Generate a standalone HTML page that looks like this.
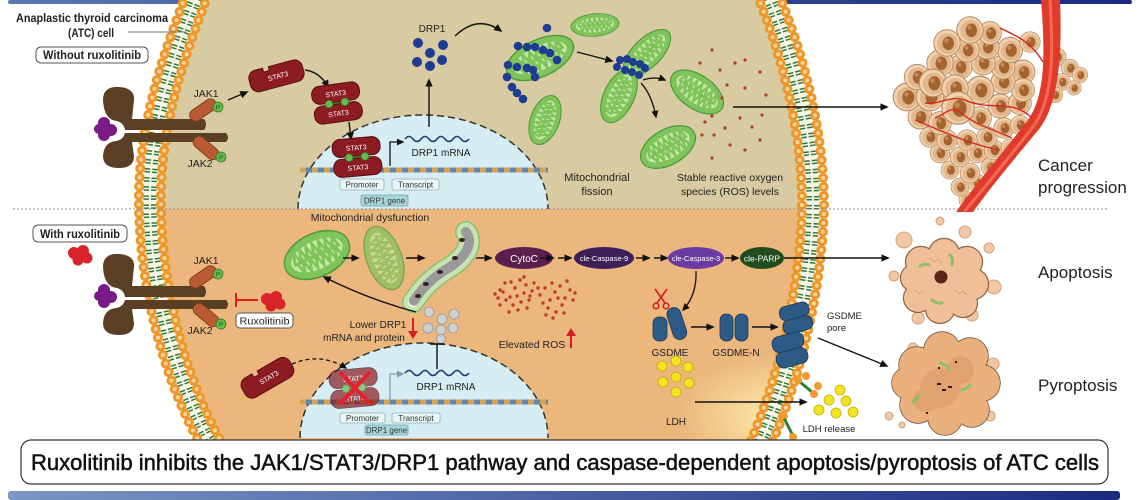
<!DOCTYPE html>
<html><head><meta charset="utf-8"><style>
html,body{margin:0;padding:0;background:#fff;}
svg{display:block;}
text{font-family:"Liberation Sans",sans-serif;fill:#222;}
</style></head><body>
<svg width="1140" height="500" viewBox="0 0 1140 500" xmlns="http://www.w3.org/2000/svg">
<defs>
 <linearGradient id="bar" x1="0" x2="1"><stop offset="0" stop-color="#7a96c4"/><stop offset="1" stop-color="#1b2a80"/></linearGradient>
 <linearGradient id="bar2" x1="0" x2="1"><stop offset="0" stop-color="#5a76ae"/><stop offset="1" stop-color="#1b2a80"/></linearGradient>
 <radialGradient id="glow"><stop offset="0" stop-color="#fbe9a8"/><stop offset="1" stop-color="#fbe9a8" stop-opacity="0"/></radialGradient>
 <clipPath id="cell"><path d="M197,-5 C172,60 148,130 150,210 C152,300 180,390 212,445 L760,445 C780,400 806,320 812,230 C818,150 795,60 768,-5 Z"/></clipPath>
 <marker id="a" viewBox="0 0 10 10" refX="8" refY="5" markerWidth="6" markerHeight="6" orient="auto"><path d="M0,0.5 L10,5 L0,9.5 Z" fill="#111"/></marker>
 <marker id="ag" viewBox="0 0 10 10" refX="8" refY="5" markerWidth="6" markerHeight="6" orient="auto"><path d="M0,0.5 L10,5 L0,9.5 Z" fill="#7f9ea4"/></marker>
 <g id="mito">
  <ellipse rx="30" ry="16" fill="#7ec45a" stroke="#4f9a3c" stroke-width="1.2"/>
  <ellipse rx="24" ry="10.5" fill="#c4e7a6"/>
  <polyline points="-21,0 -18,-8 -15,0 -12,-9 -9,0 -6,-9 -3,0 0,-9 3,0 6,-9 9,0 12,-9 15,0 18,-8 21,0" fill="none" stroke="#7ec45a" stroke-width="2.4"/>
  <polyline points="-19,0 -16,8 -13,0 -10,9 -7,0 -4,9 -1,0 2,9 5,0 8,9 11,0 14,9 17,0 20,7" fill="none" stroke="#7ec45a" stroke-width="2.4"/>
  <line x1="-22" y1="0" x2="22" y2="0" stroke="#7ec45a" stroke-width="2.4"/>
 </g>
 <g id="tc">
  <circle r="12" fill="#f0d2b0" stroke="#b88a60" stroke-width="0.9"/>
  <circle r="9.5" cx="0.6" cy="0.6" fill="#e2b78c"/>
  <ellipse cx="1.2" cy="0.3" rx="5.2" ry="6.2" fill="#a5642f"/>
  <ellipse cx="-0.5" cy="-2.2" rx="1.8" ry="2" fill="#c98a55"/>
 </g>
 <g id="dimer">
  <rect x="-24" y="-19" width="48" height="18" rx="8" fill="#8c1b22" stroke="#5a0d12" stroke-width="1"/>
  <rect x="-24" y="1" width="48" height="18" rx="8" fill="#8c1b22" stroke="#5a0d12" stroke-width="1"/>
  <line x1="-8" y1="0" x2="8" y2="0" stroke="#2f7f2a" stroke-width="1.2"/>
  <circle cx="-8" cy="0" r="3.8" fill="#67b84f" stroke="#2f7f2a" stroke-width="0.8"/>
  <circle cx="8" cy="0" r="3.8" fill="#67b84f" stroke="#2f7f2a" stroke-width="0.8"/>
  <text x="0" y="-7" font-size="7" text-anchor="middle" style="fill:#fff">STAT3</text>
  <text x="0" y="13" font-size="7" text-anchor="middle" style="fill:#fff">STAT3</text>
 </g>
 <g id="mono">
  <path d="M-17,-11 h6 v4 h6 v-4 h25 a8,8 0 0 1 8,8 v6 a8,8 0 0 1 -8,8 h-39 a8,8 0 0 1 -8,-8 v-6 a8,8 0 0 1 8,-8 z" fill="#8c1b22" stroke="#5a0d12" stroke-width="1"/>
  <text x="2" y="3" font-size="7" text-anchor="middle" style="fill:#fff">STAT3</text>
 </g>
 <g id="rec">
  <path d="M103,100 Q103,86 119,87 Q135,88 134,100 L132,119 L204,119 Q208,124.5 204,130 L125,130 Q124,123 117,121 Q104,120 103,100 Z" fill="#5b3f24"/>
  <path d="M125,133 L226,133 Q230,137.5 226,142 L132,142 L134,156 Q134,168 119,168 Q103,168 103,156 Q104,142 116,141 Q123,140 125,133 Z" fill="#5b3f24"/>
  <g fill="#7a1a86"><circle cx="104" cy="123" r="6"/><circle cx="111" cy="130" r="6"/><circle cx="104" cy="135" r="6"/><circle cx="99" cy="129" r="5"/></g>
  <g transform="translate(203,110) rotate(-35)"><rect x="-15" y="-6" width="30" height="12" rx="6" fill="#b95a33" stroke="#7a3518" stroke-width="0.8"/></g>
  <circle cx="218" cy="107" r="5" fill="#67b84f" stroke="#2f7f2a" stroke-width="0.8"/>
  <text x="218" y="109.5" font-size="6.5" text-anchor="middle" style="fill:#1d5a1a">P</text>
  <g transform="translate(206,148) rotate(40)"><rect x="-15" y="-6" width="30" height="12" rx="6" fill="#b95a33" stroke="#7a3518" stroke-width="0.8"/></g>
  <circle cx="221" cy="157" r="5" fill="#67b84f" stroke="#2f7f2a" stroke-width="0.8"/>
  <text x="221" y="159.5" font-size="6.5" text-anchor="middle" style="fill:#1d5a1a">P</text>
  <text x="206" y="97" font-size="10.5" text-anchor="middle">JAK1</text>
  <text x="200" y="167" font-size="10.5" text-anchor="middle">JAK2</text>
 </g>
 <g id="rux" fill="#d8232a"><circle cx="-6" cy="-2" r="6"/><circle cx="3" cy="-4" r="6"/><circle cx="7" cy="3" r="5.5"/><circle cx="-2" cy="5" r="5.5"/></g>
</defs>

<!-- top & bottom bars -->
<rect x="8" y="0" width="1124" height="4" rx="2" fill="url(#bar2)"/>
<rect x="8" y="491" width="1112" height="9" rx="3" fill="url(#bar)"/>

<!-- cell interior -->
<g clip-path="url(#cell)">
 <rect x="0" y="-5" width="1140" height="214" fill="#d8cba1"/>
 <rect x="0" y="209" width="1140" height="240" fill="#ebb77d"/>
 <ellipse cx="770" cy="415" rx="90" ry="60" fill="url(#glow)"/>
</g>

<!-- nuclei -->
<path d="M298,209 A125,94 0 0 1 548,209 Z" fill="#d6edf3"/>
<path d="M298,209 A125,94 0 0 1 548,209" fill="none" stroke="#333" stroke-width="1.5" stroke-dasharray="7 4"/>
<path d="M300,438 A124,95 0 0 1 548,438 Z" fill="#d6edf3"/>
<path d="M300,438 A124,95 0 0 1 548,438" fill="none" stroke="#333" stroke-width="1.5" stroke-dasharray="7 4"/>

<!-- membranes -->
<g fill="none">
 <path d="M197,-5 C172,60 148,130 150,210 C152,300 180,390 212,445" stroke="#f8f6e6" stroke-width="22"/>
 <path d="M197,-5 C172,60 148,130 150,210 C152,300 180,390 212,445" stroke="#2e7a3a" stroke-width="13" stroke-dasharray="1.5 1.5 1.5 4.5"/>
 <path d="M197,-5 C172,60 148,130 150,210 C152,300 180,390 212,445" stroke="#f8f6e6" stroke-width="2"/>
 <path d="M186,-5 C161,60 137,130 139,210 C141,300 169,390 201,445" stroke="#ee962a" stroke-width="10" stroke-dasharray="0 9" stroke-linecap="round"/>
 <path d="M208,-5 C183,60 159,130 161,210 C163,300 191,390 223,445" stroke="#ee962a" stroke-width="10" stroke-dasharray="0 9" stroke-linecap="round"/>
 <path d="M186,-5 C161,60 137,130 139,210 C141,300 169,390 201,445" stroke="#fcd8a0" stroke-width="4" stroke-dasharray="0 9" stroke-linecap="round"/>
 <path d="M208,-5 C183,60 159,130 161,210 C163,300 191,390 223,445" stroke="#fcd8a0" stroke-width="4" stroke-dasharray="0 9" stroke-linecap="round"/>

 <path d="M768,-5 C795,60 818,150 812,230 C806,320 780,400 760,445" stroke="#f8f6e6" stroke-width="22"/>
 <path d="M768,-5 C795,60 818,150 812,230 C806,320 780,400 760,445" stroke="#2e7a3a" stroke-width="13" stroke-dasharray="1.5 1.5 1.5 4.5"/>
 <path d="M768,-5 C795,60 818,150 812,230 C806,320 780,400 760,445" stroke="#f8f6e6" stroke-width="2"/>
 <path d="M757,-5 C784,60 807,150 801,230 C795,320 769,400 749,445" stroke="#ee962a" stroke-width="10" stroke-dasharray="0 9" stroke-linecap="round"/>
 <path d="M779,-5 C806,60 829,150 823,230 C817,320 791,400 771,445" stroke="#ee962a" stroke-width="10" stroke-dasharray="0 9" stroke-linecap="round"/>
 <path d="M757,-5 C784,60 807,150 801,230 C795,320 769,400 749,445" stroke="#fcd8a0" stroke-width="4" stroke-dasharray="0 9" stroke-linecap="round"/>
 <path d="M779,-5 C806,60 829,150 823,230 C817,320 791,400 771,445" stroke="#fcd8a0" stroke-width="4" stroke-dasharray="0 9" stroke-linecap="round"/>
</g>

<!-- divider -->
<line x1="13" y1="209" x2="1108" y2="209" stroke="#8a8a8a" stroke-width="1" stroke-dasharray="2 2"/>

<!-- top-left labels -->
<text x="16" y="22" font-size="12" font-weight="bold" textLength="152" lengthAdjust="spacingAndGlyphs">Anaplastic thyroid carcinoma</text>
<text x="68" y="37" font-size="12" font-weight="bold" textLength="46" lengthAdjust="spacingAndGlyphs">(ATC) cell</text>
<line x1="128" y1="32" x2="186" y2="32" stroke="#777" stroke-width="1"/>
<rect x="36" y="47" width="112" height="16" rx="5" fill="#fff" stroke="#555" stroke-width="1"/>
<text x="43" y="59" font-size="11.5" font-weight="bold" textLength="98" lengthAdjust="spacingAndGlyphs">Without ruxolitinib</text>
<rect x="33" y="225" width="94" height="17" rx="5" fill="#fff" stroke="#555" stroke-width="1"/>
<text x="40" y="238" font-size="11.5" font-weight="bold" textLength="80" lengthAdjust="spacingAndGlyphs">With ruxolitinib</text>

<!-- receptors -->
<use href="#rec"/>
<use href="#rec" transform="translate(0,167)"/>
<use href="#rux" transform="translate(80,255)"/>
<use href="#rux" transform="translate(273,301)"/>
<line x1="258" y1="300" x2="236" y2="300" stroke="#e02020" stroke-width="2"/>
<line x1="236" y1="293" x2="236" y2="307" stroke="#e02020" stroke-width="2"/>
<rect x="236" y="313" width="57" height="15" rx="4" fill="#fff" stroke="#555" stroke-width="1"/>
<text x="264.5" y="324.5" font-size="10" text-anchor="middle" textLength="50" lengthAdjust="spacingAndGlyphs">Ruxolitinib</text>

<!-- top STAT3 pathway -->
<path d="M228,100 L247,92" stroke="#111" stroke-width="1.4" marker-end="url(#a)"/>
<use href="#mono" transform="translate(276,76) rotate(-15)"/>
<path d="M305,70 Q320,72 328,87" fill="none" stroke="#111" stroke-width="1.4" marker-end="url(#a)"/>
<use href="#dimer" transform="translate(337,103) rotate(-8)"/>
<path d="M349,122 L351,139" stroke="#111" stroke-width="1.4" marker-end="url(#a)"/>

<!-- top DNA -->
<line x1="300" y1="170" x2="548" y2="170" stroke="#d9a050" stroke-width="5" stroke-dasharray="6 6"/>
<line x1="300" y1="170" x2="548" y2="170" stroke="#5f86ad" stroke-width="5" stroke-dasharray="6 6" stroke-dashoffset="6"/>
<use href="#dimer" transform="translate(357,157) rotate(-5)"/>
<rect x="340" y="179" width="44" height="11" rx="2" fill="#eaf5f8" stroke="#8fb0b8" stroke-width="0.8"/>
<text x="362" y="187.5" font-size="8" text-anchor="middle" style="fill:#333">Promoter</text>
<rect x="392" y="179" width="47" height="11" rx="2" fill="#eaf5f8" stroke="#8fb0b8" stroke-width="0.8"/>
<text x="415.5" y="187.5" font-size="8" text-anchor="middle" style="fill:#333">Transcript</text>
<rect x="361" y="195" width="47" height="11" rx="2" fill="#a8d5d8" stroke="#6aa5aa" stroke-width="0.8"/>
<text x="384.5" y="203.5" font-size="8" text-anchor="middle" style="fill:#333">DRP1 gene</text>
<path d="M390,166 L390,142 L403,142" fill="none" stroke="#111" stroke-width="1.3" marker-end="url(#a)"/>
<path d="M405,139 q4,-5 8,0 t8,0 t8,0 t8,0 t8,0 t8,0 t8,0 t8,0" fill="none" stroke="#1a3a6e" stroke-width="1.6"/>
<text x="441" y="156" font-size="10" text-anchor="middle">DRP1 mRNA</text>
<path d="M429,127 L429,80" stroke="#111" stroke-width="1.4" marker-end="url(#a)"/>

<!-- DRP1 dots -->
<g fill="#1f3c93">
 <circle cx="418" cy="43" r="5"/><circle cx="443" cy="45" r="5"/><circle cx="430" cy="53" r="5"/>
 <circle cx="417" cy="62" r="5"/><circle cx="442" cy="60" r="5"/><circle cx="430" cy="66" r="5"/>
</g>
<text x="432" y="32" font-size="10" text-anchor="middle">DRP1</text>
<path d="M455,36 Q478,14 501,31" fill="none" stroke="#111" stroke-width="1.4" marker-end="url(#a)"/>

<!-- top mitochondria -->
<use href="#mito" transform="translate(595,25) rotate(-5) scale(0.8,0.7)"/>
<use href="#mito" transform="translate(545,120) rotate(-70) scale(0.85,0.9)"/>
<use href="#mito" transform="translate(540,58) rotate(-25) scale(1.2,1.15)"/>
<g fill="#1f3c93">
 <circle cx="547" cy="28" r="4.3"/><circle cx="518" cy="46" r="4.3"/><circle cx="527" cy="47" r="4.3"/><circle cx="535" cy="47" r="4.3"/>
 <circle cx="543" cy="50" r="4.3"/><circle cx="550" cy="53" r="4.3"/><circle cx="557" cy="60" r="4.3"/><circle cx="508" cy="65" r="4.3"/>
 <circle cx="517" cy="67" r="4.3"/><circle cx="527" cy="68" r="4.3"/><circle cx="535" cy="77" r="4.3"/><circle cx="507" cy="77" r="4.3"/>
 <circle cx="512" cy="87" r="4.3"/><circle cx="517" cy="93" r="4.3"/><circle cx="523" cy="99" r="4.3"/><circle cx="533" cy="70" r="4.3"/>
</g>
<path d="M577,52 L612,61" stroke="#111" stroke-width="1.4" marker-end="url(#a)"/>
<use href="#mito" transform="translate(647,53) rotate(-45) scale(1.0,0.9)"/>
<use href="#mito" transform="translate(619,96) rotate(-65) scale(0.95,0.95)"/>
<g fill="#1f3c93">
 <circle cx="620" cy="60" r="4"/><circle cx="627" cy="59" r="4"/><circle cx="633" cy="62" r="4"/><circle cx="640" cy="64" r="4"/>
 <circle cx="645" cy="68" r="4"/><circle cx="639" cy="75" r="4"/><circle cx="632" cy="72" r="4"/><circle cx="625" cy="70" r="4"/><circle cx="617" cy="67" r="4"/>
</g>
<path d="M643,80 Q655,76 665,80" fill="none" stroke="#111" stroke-width="1.3" marker-end="url(#a)"/>
<path d="M641,83 Q652,95 656,117" fill="none" stroke="#111" stroke-width="1.3" marker-end="url(#a)"/>
<use href="#mito" transform="translate(697,92) rotate(35) scale(1.0,1.05)"/>
<use href="#mito" transform="translate(668,147) rotate(-30) scale(1.0,1.1)"/>

<!-- top ROS -->
<g fill="#b23a2a">
 <circle cx="712" cy="50" r="1.6"/><circle cx="700" cy="63" r="1.6"/><circle cx="720" cy="70" r="1.6"/><circle cx="735" cy="63" r="1.6"/>
 <circle cx="727" cy="85" r="1.6"/><circle cx="745" cy="60" r="1.6"/><circle cx="760" cy="72" r="1.6"/><circle cx="705" cy="122" r="1.6"/>
 <circle cx="712" cy="116" r="1.6"/><circle cx="725" cy="128" r="1.6"/><circle cx="714" cy="135" r="1.6"/><circle cx="702" cy="135" r="1.6"/>
 <circle cx="740" cy="118" r="1.6"/><circle cx="752" cy="127" r="1.6"/><circle cx="760" cy="140" r="1.6"/><circle cx="730" cy="145" r="1.6"/>
 <circle cx="745" cy="150" r="1.6"/><circle cx="712" cy="158" r="1.6"/><circle cx="762" cy="115" r="1.6"/><circle cx="766" cy="95" r="1.6"/>
 <circle cx="722" cy="98" r="1.6"/><circle cx="745" cy="88" r="1.6"/>
</g>
<path d="M733,107 L887,107" stroke="#111" stroke-width="1.4" marker-end="url(#a)"/>
<text x="597" y="181" font-size="11" text-anchor="middle">Mitochondrial</text>
<text x="597" y="195" font-size="11" text-anchor="middle">fission</text>
<text x="730" y="181" font-size="10.5" text-anchor="middle">Stable reactive oxygen</text>
<text x="730" y="195" font-size="10.5" text-anchor="middle">species (ROS) levels</text>

<!-- tumor -->
<g>
 <use href="#tc" transform="translate(967,200) scale(0.68)"/>
 <use href="#tc" transform="translate(960,187) scale(0.75)"/><use href="#tc" transform="translate(977,183) scale(0.75)"/>
 <use href="#tc" transform="translate(950,170) scale(0.75)"/><use href="#tc" transform="translate(970,173) scale(0.82)"/><use href="#tc" transform="translate(990,167) scale(0.75)"/>
 <use href="#tc" transform="translate(940,153) scale(0.82)"/><use href="#tc" transform="translate(960,157) scale(0.82)"/><use href="#tc" transform="translate(977,153) scale(0.82)"/><use href="#tc" transform="translate(994,150) scale(0.82)"/>
 <use href="#tc" transform="translate(1010,148) scale(0.75)"/>
 <use href="#tc" transform="translate(930,137) scale(0.85)"/><use href="#tc" transform="translate(947,140) scale(0.85)"/><use href="#tc" transform="translate(967,140) scale(0.85)"/><use href="#tc" transform="translate(987,137) scale(0.85)"/>
 <use href="#tc" transform="translate(1004,128) scale(0.85)"/><use href="#tc" transform="translate(1020,125) scale(0.8)"/>
 <use href="#tc" transform="translate(920,117) scale(1.0)"/><use href="#tc" transform="translate(940,123) scale(0.95)"/><use href="#tc" transform="translate(980,118) scale(0.95)"/>
 <use href="#tc" transform="translate(1000,106) scale(1.0)"/><use href="#tc" transform="translate(1020,103) scale(0.95)"/>
 <use href="#tc" transform="translate(1057,57) scale(0.75)"/><use href="#tc" transform="translate(1070,68) scale(0.72)"/><use href="#tc" transform="translate(1080,75) scale(0.65)"/>
 <use href="#tc" transform="translate(1062,82) scale(0.7)"/><use href="#tc" transform="translate(1074,88) scale(0.6)"/><use href="#tc" transform="translate(1055,95) scale(0.65)"/>
 <use href="#tc" transform="translate(1023,72) scale(1.0)"/><use href="#tc" transform="translate(1023,90) scale(0.95)"/>
 <use href="#tc" transform="translate(1003,82) scale(1.0)"/><use href="#tc" transform="translate(980,90) scale(1.15)"/>
 <use href="#tc" transform="translate(907,97) scale(1.15)"/><use href="#tc" transform="translate(930,97) scale(1.15)"/>
 <use href="#tc" transform="translate(917,77) scale(1.05)"/>
 <use href="#tc" transform="translate(1003,67) scale(1.0)"/><use href="#tc" transform="translate(983,63) scale(1.0)"/>
 <use href="#tc" transform="translate(1010,50) scale(1.05)"/><use href="#tc" transform="translate(987,47) scale(1.0)"/>
 <use href="#tc" transform="translate(990,33) scale(0.95)"/><use href="#tc" transform="translate(1030,42) scale(0.85)"/>
 <use href="#tc" transform="translate(960,67) scale(1.0)"/><use href="#tc" transform="translate(940,63) scale(1.1)"/>
 <use href="#tc" transform="translate(967,50) scale(1.0)"/><use href="#tc" transform="translate(947,43) scale(1.1)"/>
 <use href="#tc" transform="translate(970,30) scale(1.1)"/>
 <use href="#tc" transform="translate(933,83) scale(1.15)"/><use href="#tc" transform="translate(955,88) scale(1.1)"/>
 <use href="#tc" transform="translate(958,108) scale(1.35)"/>
</g>
<path d="M1041,0 C1045,50 1046,95 1028,120 C1005,150 975,185 956,212 L973,212 C990,188 1015,158 1040,128 C1060,100 1062,50 1060,0 Z" fill="#e23a2a"/>
<path d="M1050,0 C1053,50 1054,95 1035,124 C1012,154 984,188 964,212" fill="none" stroke="#f26a55" stroke-width="3"/>
<g fill="none" stroke="#d9281e" stroke-width="1.4">
 <path d="M1032,118 C1012,98 990,112 965,100 C950,95 940,105 925,103"/>
 <path d="M1043,62 C1030,40 1012,34 1000,28"/>
 <path d="M1012,138 C990,128 975,125 960,112 C950,105 945,115 935,118"/>
 <path d="M1000,150 C970,145 940,130 915,120"/>
</g>
<text x="1038" y="171" font-size="17">Cancer</text>
<text x="1038" y="193" font-size="17">progression</text>

<!-- bottom half -->
<text x="370" y="221" font-size="10.5" text-anchor="middle">Mitochondrial dysfunction</text>
<use href="#mito" transform="translate(317,255) rotate(-25) scale(1.15,1.35)"/>
<path d="M343,258 L358,258" stroke="#111" stroke-width="1.4" marker-end="url(#a)"/>
<g opacity="0.7"><use href="#mito" transform="translate(384,258) rotate(70) scale(1.1,1.1)"/></g>
<path d="M406,258 L424,258" stroke="#111" stroke-width="1.4" marker-end="url(#a)"/>
<g fill="none" stroke-linecap="round">
 <path d="M466,232 C476,246 460,262 445,270 C427,282 420,292 413,302" stroke="#8cbf73" stroke-width="22"/>
 <path d="M466,232 C476,246 460,262 445,270 C427,282 420,292 413,302" stroke="#c6e4b0" stroke-width="19"/>
 <path d="M466,232 C476,246 460,262 445,270 C427,282 420,292 413,302" stroke="#f3f5ef" stroke-width="10"/>
 <path d="M466,232 C476,246 460,262 445,270 C427,282 420,292 413,302" stroke="#9a9a9a" stroke-width="10" stroke-dasharray="1 3"/>
</g>
<g fill="#3a1f1f"><ellipse cx="462" cy="240" rx="3" ry="2"/><ellipse cx="455" cy="258" rx="3" ry="2"/><ellipse cx="440" cy="272" rx="3" ry="2"/><ellipse cx="426" cy="284" rx="3" ry="2"/><ellipse cx="418" cy="296" rx="3" ry="2"/></g>
<path d="M476,258 L491,258" stroke="#111" stroke-width="1.4" marker-end="url(#a)"/>
<ellipse cx="524" cy="258" rx="29" ry="11" fill="#5a1f4f"/>
<text x="524" y="262" font-size="10" text-anchor="middle" style="fill:#fff">CytoC</text>
<path d="M540,258 L553,258" stroke="#111" stroke-width="1.4" marker-end="url(#a)"/>
<path d="M558,258 L571,258" stroke="#111" stroke-width="1.4" marker-end="url(#a)"/>
<ellipse cx="604" cy="258" rx="30" ry="11" fill="#3d1f5a"/>
<text x="604" y="261" font-size="7.5" text-anchor="middle" style="fill:#fff">cle-Caspase-9</text>
<path d="M636,258 L649,258" stroke="#111" stroke-width="1.4" marker-end="url(#a)"/>
<path d="M654,258 L667,258" stroke="#111" stroke-width="1.4" marker-end="url(#a)"/>
<ellipse cx="696" cy="258" rx="28" ry="11" fill="#6b3aa3"/>
<text x="696" y="261" font-size="7.5" text-anchor="middle" style="fill:#fff">cle-Caspase-3</text>
<path d="M725,258 L738,258" stroke="#111" stroke-width="1.4" marker-end="url(#a)"/>
<ellipse cx="762" cy="258" rx="22" ry="11" fill="#1f4d1f"/>
<text x="762" y="261.5" font-size="8.5" text-anchor="middle" style="fill:#fff">cle-PARP</text>
<path d="M784,258 L888,258" stroke="#111" stroke-width="1.4" marker-end="url(#a)"/>

<path d="M416,312 Q370,300 324,277" fill="none" stroke="#111" stroke-width="1.4" marker-end="url(#a)"/>
<text x="378" y="328" font-size="10" text-anchor="middle">Lower DRP1</text>
<text x="364" y="341" font-size="10" text-anchor="middle">mRNA and protein</text>
<line x1="413" y1="318" x2="413" y2="332" stroke="#d42020" stroke-width="2"/>
<path d="M408,331 L418,331 L413,339 Z" fill="#d42020"/>
<g fill="#d0d0d0" stroke="#9a9a9a" stroke-width="0.8">
 <circle cx="429" cy="312" r="5"/><circle cx="442" cy="319" r="5"/><circle cx="454" cy="314" r="5"/>
 <circle cx="428" cy="328" r="5"/><circle cx="441" cy="330" r="5"/><circle cx="453" cy="328" r="5"/><circle cx="441" cy="339" r="4.5"/>
</g>

<!-- elevated ROS -->
<g fill="#c0392b">
 <circle cx="500" cy="290" r="1.7"/><circle cx="505" cy="283" r="1.7"/><circle cx="510" cy="297" r="1.7"/><circle cx="515" cy="288" r="1.7"/>
 <circle cx="520" cy="280" r="1.7"/><circle cx="524" cy="293" r="1.7"/><circle cx="529" cy="300" r="1.7"/><circle cx="513" cy="305" r="1.7"/>
 <circle cx="506" cy="300" r="1.7"/><circle cx="498" cy="298" r="1.7"/><circle cx="518" cy="310" r="1.7"/><circle cx="526" cy="285" r="1.7"/>
 <circle cx="532" cy="291" r="1.7"/><circle cx="503" cy="292" r="1.7"/><circle cx="511" cy="282" r="1.7"/><circle cx="521" cy="302" r="1.7"/>
 <circle cx="527" cy="308" r="1.7"/><circle cx="534" cy="283" r="1.7"/><circle cx="495" cy="294" r="1.7"/><circle cx="509" cy="312" r="1.7"/>
 <circle cx="517" cy="296" r="1.7"/><circle cx="524" cy="277" r="1.7"/><circle cx="530" cy="296" r="1.7"/><circle cx="500" cy="305" r="1.7"/>
 <circle cx="540" cy="295" r="1.7"/><circle cx="545" cy="288" r="1.7"/><circle cx="550" cy="300" r="1.7"/><circle cx="555" cy="292" r="1.7"/>
 <circle cx="560" cy="286" r="1.7"/><circle cx="565" cy="298" r="1.7"/><circle cx="570" cy="290" r="1.7"/><circle cx="548" cy="308" r="1.7"/>
 <circle cx="556" cy="312" r="1.7"/><circle cx="562" cy="305" r="1.7"/><circle cx="543" cy="303" r="1.7"/><circle cx="552" cy="283" r="1.7"/>
 <circle cx="567" cy="281" r="1.7"/><circle cx="573" cy="300" r="1.7"/><circle cx="546" cy="315" r="1.7"/><circle cx="558" cy="298" r="1.7"/>
 <circle cx="564" cy="313" r="1.7"/><circle cx="538" cy="288" r="1.7"/><circle cx="553" cy="318" r="1.7"/><circle cx="575" cy="293" r="1.7"/>
</g>
<text x="532" y="348" font-size="10.5" text-anchor="middle">Elevated ROS</text>
<line x1="571" y1="348" x2="571" y2="335" stroke="#d42020" stroke-width="2"/>
<path d="M566,336 L576,336 L571,328 Z" fill="#d42020"/>

<!-- GSDME -->
<path d="M696,271 Q697,295 683,310" fill="none" stroke="#111" stroke-width="1.3" marker-end="url(#a)"/>
<g stroke="#d62020" stroke-width="1.6" fill="none">
 <line x1="657" y1="303" x2="667" y2="289"/><line x1="665" y1="303" x2="655" y2="289"/>
 <circle cx="656" cy="306" r="2.8"/><circle cx="666" cy="306" r="2.8"/>
</g>
<rect x="653" y="317" width="14" height="24" rx="6" fill="#2d5b86" stroke="#1a3a5c" stroke-width="0.8"/>
<g transform="translate(677,324) rotate(-18)"><rect x="-7" y="-17" width="14" height="33" rx="7" fill="#2d5b86" stroke="#1a3a5c" stroke-width="0.8"/></g>
<text x="670" y="356" font-size="10" text-anchor="middle">GSDME</text>
<path d="M691,327 L713,327" stroke="#111" stroke-width="1.4" marker-end="url(#a)"/>
<rect x="720" y="314" width="13" height="27" rx="6" fill="#2d5b86" stroke="#1a3a5c" stroke-width="0.8"/>
<rect x="735" y="314" width="13" height="27" rx="6" fill="#2d5b86" stroke="#1a3a5c" stroke-width="0.8"/>
<text x="736" y="356" font-size="10" text-anchor="middle">GSDME-N</text>
<path d="M752,327 L777,327" stroke="#111" stroke-width="1.4" marker-end="url(#a)"/>
<g transform="translate(796,318) rotate(-15)" fill="#2d5b86" stroke="#1a3a5c" stroke-width="0.8">
 <rect x="-15" y="-14" width="30" height="14" rx="6"/><rect x="-15" y="0" width="30" height="14" rx="6"/>
</g>
<g transform="translate(790,350) rotate(-15)" fill="#2d5b86" stroke="#1a3a5c" stroke-width="0.8">
 <rect x="-16" y="-16" width="32" height="16" rx="7"/><rect x="-16" y="0" width="32" height="16" rx="7"/>
</g>
<text x="827" y="319" font-size="9.5">GSDME</text>
<text x="827" y="331" font-size="9.5">pore</text>
<path d="M818,338 L887,366" stroke="#111" stroke-width="1.4" marker-end="url(#a)"/>

<!-- lipid fragments -->
<g>
 <line x1="800" y1="382" x2="812" y2="392" stroke="#2f7f3a" stroke-width="3"/>
 <circle cx="798" cy="380" r="4" fill="#f29a2e"/><circle cx="814" cy="394" r="4" fill="#f29a2e"/>
 <circle cx="806" cy="376" r="4" fill="#f29a2e"/><circle cx="818" cy="386" r="4" fill="#f29a2e"/>
 <line x1="784" y1="418" x2="792" y2="434" stroke="#2f7f3a" stroke-width="3"/>
 <circle cx="783" cy="415" r="4" fill="#f29a2e"/><circle cx="793" cy="437" r="4" fill="#f29a2e"/>
</g>

<!-- LDH -->
<g fill="#f3e323" stroke="#c2b000" stroke-width="0.8">
 <circle cx="662" cy="366" r="5"/><circle cx="676" cy="361" r="5"/><circle cx="688" cy="367" r="5"/>
 <circle cx="663" cy="382" r="5"/><circle cx="676" cy="377" r="5"/><circle cx="689" cy="383" r="5"/><circle cx="676" cy="392" r="5"/>
</g>
<text x="676" y="425" font-size="10" text-anchor="middle">LDH</text>
<path d="M695,402 L806,402" stroke="#111" stroke-width="1.4" marker-end="url(#a)"/>
<g fill="#f3e323" stroke="#c2b000" stroke-width="0.8">
 <circle cx="840" cy="390" r="5"/><circle cx="829" cy="400" r="5"/><circle cx="846" cy="401" r="5"/>
 <circle cx="819" cy="410" r="5"/><circle cx="836" cy="413" r="5"/><circle cx="853" cy="412" r="5"/>
</g>
<text x="829" y="432" font-size="9.5" text-anchor="middle">LDH release</text>

<!-- bottom nucleus content -->
<use href="#mono" transform="translate(267,378) rotate(-30)"/>
<path d="M292,364 Q320,352 346,368" fill="none" stroke="#111" stroke-width="1.3" stroke-dasharray="4 3" marker-end="url(#a)"/>
<line x1="300" y1="402" x2="548" y2="402" stroke="#d9a050" stroke-width="5" stroke-dasharray="6 6"/>
<line x1="300" y1="402" x2="548" y2="402" stroke="#5f86ad" stroke-width="5" stroke-dasharray="6 6" stroke-dashoffset="6"/>
<g opacity="0.7"><use href="#dimer" transform="translate(354,388) rotate(-5)"/></g>
<line x1="340" y1="372" x2="370" y2="404" stroke="#e8202a" stroke-width="4"/>
<line x1="370" y1="372" x2="340" y2="404" stroke="#e8202a" stroke-width="4"/>
<rect x="340" y="413" width="45" height="10" rx="2" fill="#eaf5f8" stroke="#8fb0b8" stroke-width="0.8"/>
<text x="362.5" y="421" font-size="8" text-anchor="middle" style="fill:#333">Promoter</text>
<rect x="392" y="413" width="48" height="10" rx="2" fill="#eaf5f8" stroke="#8fb0b8" stroke-width="0.8"/>
<text x="416" y="421" font-size="8" text-anchor="middle" style="fill:#333">Transcript</text>
<rect x="365" y="425" width="43" height="10" rx="2" fill="#a8d5d8" stroke="#6aa5aa" stroke-width="0.8"/>
<text x="386.5" y="433" font-size="8" text-anchor="middle" style="fill:#333">DRP1 gene</text>
<path d="M390,400 L390,374 L403,374" fill="none" stroke="#7f9ea4" stroke-width="1.3" marker-end="url(#ag)"/>
<path d="M405,373 q4,-5 8,0 t8,0 t8,0 t8,0 t8,0 t8,0 t8,0 t8,0" fill="none" stroke="#1a3a6e" stroke-width="1.6"/>
<text x="446" y="390" font-size="10" text-anchor="middle">DRP1 mRNA</text>
<line x1="437" y1="369" x2="437" y2="344" stroke="#111" stroke-width="1.4"/>
<line x1="430" y1="344" x2="444" y2="344" stroke="#111" stroke-width="1.6"/>

<!-- apoptosis cell -->
<g fill="#f0c8a4" stroke="#d3a07c" stroke-width="1">
 <circle cx="904" cy="240" r="8"/><circle cx="965" cy="232" r="6"/><circle cx="989" cy="248" r="5"/><circle cx="894" cy="276" r="5"/>
 <circle cx="994" cy="287" r="7"/><circle cx="918" cy="318" r="6"/><circle cx="972" cy="315" r="6"/><circle cx="940" cy="221" r="4"/>
</g>
<g stroke="#8a5a3a" stroke-width="2.2" fill="#efbf98">
 <circle cx="943" cy="281" r="30"/><circle cx="921" cy="262" r="15"/><circle cx="944" cy="254" r="15"/><circle cx="967" cy="262" r="15"/>
 <circle cx="973" cy="284" r="15"/><circle cx="963" cy="303" r="14"/><circle cx="940" cy="309" r="14"/><circle cx="918" cy="298" r="14"/><circle cx="914" cy="278" r="13"/>
</g>
<g fill="#efbf98">
 <circle cx="943" cy="281" r="30"/><circle cx="921" cy="262" r="15"/><circle cx="944" cy="254" r="15"/><circle cx="967" cy="262" r="15"/>
 <circle cx="973" cy="284" r="15"/><circle cx="963" cy="303" r="14"/><circle cx="940" cy="309" r="14"/><circle cx="918" cy="298" r="14"/><circle cx="914" cy="278" r="13"/>
</g>
<circle cx="941" cy="277" r="6.5" fill="#5a2418"/>
<g fill="none" stroke="#8cc06a" stroke-width="3" stroke-linecap="round">
 <path d="M950,255 q4,4 2,10"/><path d="M920,266 q5,-3 9,-1"/><path d="M932,300 q5,4 10,3"/>
</g>
<g fill="none" stroke="#d9957a" stroke-width="0.8"><path d="M930,258 l4,4 l4,-3 l4,4"/><path d="M955,290 l4,4 l4,-3 l4,4"/><path d="M915,290 l4,4 l4,-3"/></g>
<text x="1038" y="278" font-size="17">Apoptosis</text>

<!-- pyroptosis cell -->
<g fill="#f0c8a4" stroke="#d3a07c" stroke-width="1">
 <circle cx="913" cy="348" r="5"/><circle cx="993" cy="364" r="6"/><circle cx="889" cy="416" r="4"/><circle cx="990" cy="416" r="5"/><circle cx="902" cy="425" r="3"/>
</g>
<g stroke="#6a4a3a" stroke-width="1.4" fill="#eab07e">
 <circle cx="945" cy="385" r="38"/><circle cx="917" cy="365" r="18"/><circle cx="942" cy="350" r="18"/><circle cx="970" cy="356" r="18"/>
 <circle cx="982" cy="383" r="18"/><circle cx="972" cy="410" r="17"/><circle cx="945" cy="418" r="17"/><circle cx="918" cy="405" r="18"/><circle cx="908" cy="383" r="16"/>
</g>
<g fill="#eab07e">
 <circle cx="945" cy="385" r="38"/><circle cx="917" cy="365" r="18"/><circle cx="942" cy="350" r="18"/><circle cx="970" cy="356" r="18"/>
 <circle cx="982" cy="383" r="18"/><circle cx="972" cy="410" r="17"/><circle cx="945" cy="418" r="17"/><circle cx="918" cy="405" r="18"/><circle cx="908" cy="383" r="16"/>
</g>
<g fill="#dc9a68" opacity="0.6"><circle cx="940" cy="388" r="20"/><circle cx="960" cy="370" r="14"/><circle cx="925" cy="400" r="12"/></g>
<g fill="#3a1a1a"><rect x="937" y="383" width="4" height="2"/><rect x="942" y="389" width="4" height="2"/><rect x="948" y="386" width="4" height="2"/><rect x="938" y="367" width="2" height="2"/><rect x="955" y="361" width="2" height="2"/><rect x="926" y="412" width="2" height="2"/></g>
<g fill="none" stroke="#8cc06a" stroke-width="3" stroke-linecap="round"><path d="M940,363 q5,1 9,6"/><path d="M970,385 q-4,5 -9,5"/><path d="M913,402 q3,-5 7,-6"/></g>
<text x="1038" y="391" font-size="17">Pyroptosis</text>

<!-- caption -->
<rect x="21" y="440" width="1087" height="44" rx="10" fill="#fff" stroke="#333" stroke-width="1.2"/>
<text x="31" y="470" font-size="22" textLength="1068" lengthAdjust="spacingAndGlyphs" style="fill:#111;stroke:#111;stroke-width:0.5">Ruxolitinib inhibits the JAK1/STAT3/DRP1 pathway and caspase-dependent apoptosis/pyroptosis of ATC cells</text>
</svg>
</body></html>
